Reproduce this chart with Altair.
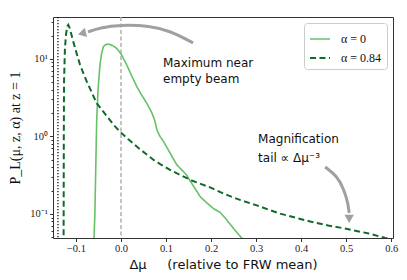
import altair as alt
import pandas as pd

# ---- data ----
s0_x = [-0.0605, -0.058, -0.056, -0.054, -0.051, -0.0467, -0.043, -0.039, -0.034, -0.028,
        -0.020, -0.0096, 0.0, 0.0127, 0.024, 0.035, 0.046, 0.057, 0.068, 0.075, 0.080,
        0.0867, 0.095, 0.105, 0.115, 0.124, 0.135, 0.146, 0.153, 0.165, 0.176, 0.19,
        0.205, 0.22, 0.232, 0.242, 0.255, 0.268, 0.275]
s0_y = [0.04, 0.1, 0.4, 1.6, 4.0, 8.4, 11.8, 14.4, 15.3, 15.5,
        15.0, 13.7, 11.6, 8.4, 6.0, 4.4, 3.4, 2.7, 2.05, 1.6, 1.2,
        1.0, 0.85, 0.67, 0.53, 0.43, 0.37, 0.316, 0.27, 0.21, 0.167, 0.14,
        0.118, 0.105, 0.088, 0.074, 0.06, 0.049, 0.044]

s1_x = [-0.1275, -0.127, -0.1265, -0.1245, -0.122, -0.119, -0.117, -0.114, -0.110, -0.106,
        -0.098, -0.091, -0.083, -0.076, -0.065, -0.054, -0.041, -0.028, -0.015, 0.0,
        0.017, 0.035, 0.053, 0.072, 0.087, 0.109, 0.131, 0.157, 0.198, 0.231, 0.264,
        0.30, 0.331, 0.353, 0.38, 0.42, 0.46, 0.50, 0.55, 0.587, 0.61]
s1_y = [0.04, 1.0, 5.0, 13.5, 21.0, 26.5, 27.5, 25.0, 20.5, 16.7,
        11.5, 8.4, 6.4, 5.1, 3.7, 2.68, 2.15, 1.72, 1.38, 1.12,
        0.91, 0.74, 0.61, 0.50, 0.44, 0.37, 0.32, 0.27, 0.22, 0.18, 0.152,
        0.13, 0.112, 0.101, 0.092, 0.080, 0.071, 0.0645, 0.056, 0.049, 0.046]

series_names = ["α = 0", "α = 0.84"]
series_colors = ["#66c266", "#0f6b2a"]

dotted_x = [-0.14]
zero_x = [0.0]

x_ticks = [-0.1, 0.0, 0.1, 0.2, 0.3, 0.4, 0.5, 0.6]
y_major = [0.1, 1.0, 10.0]
y_minor = [0.05, 0.06, 0.07, 0.08, 0.09, 0.2, 0.3, 0.4, 0.5, 0.6, 0.7, 0.8, 0.9,
           2, 3, 4, 5, 6, 7, 8, 9, 20, 30]

# annotation arrows (data coordinates)
arrow1_x = [0.16, 0.1089, 0.0644, -0.0022, -0.0467, -0.0733]
arrow1_y = [16.1, 23.0, 26.7, 27.5, 25.1, 22.3]
arrow2_x = [0.4533, 0.48, 0.4956, 0.5044, 0.5067]
arrow2_y = [0.404, 0.309, 0.204, 0.1346, 0.103]
head_x = [-0.0867, 0.5067]
head_y = [21.3, 0.0862]
head_shape = ["triangle-left", "triangle-down"]
head_angle = [346, 0]

text_x = [0.0933, 0.0933, 0.3044, 0.3044]
text_y = [7.89, 4.9, 0.826, 0.469]
text_s = ["Maximum near", "empty beam", "Magnification", "tail ∝ Δμ⁻³"]

XDOM = [-0.151, 0.604]
YDOM = [0.049, 34.7]

# ---- tables ----
curves = pd.concat([
    pd.DataFrame({"x": s0_x, "y": s0_y, "series": series_names[0], "i": range(len(s0_x))}),
    pd.DataFrame({"x": s1_x, "y": s1_y, "series": series_names[1], "i": range(len(s1_x))}),
])
arrows = pd.concat([
    pd.DataFrame({"x": arrow1_x, "y": arrow1_y, "a": "a1", "i": range(len(arrow1_x))}),
    pd.DataFrame({"x": arrow2_x, "y": arrow2_y, "a": "a2", "i": range(len(arrow2_x))}),
])
heads = pd.DataFrame({"x": head_x, "y": head_y, "shape": head_shape, "angle": head_angle})
texts = pd.DataFrame({"x": text_x, "y": text_y, "t": text_s})
yticks_all = sorted(y_major + y_minor)

xscale = alt.Scale(domain=XDOM, nice=False, zero=False)
yscale = alt.Scale(type="log", domain=YDOM, nice=False)

NB = "\u00a0"
x_axis = alt.Axis(
    values=x_ticks,
    labelExpr="datum.value < 0 ? '−' + format(abs(datum.value), '.1f') : format(datum.value, '.1f')",
    title="Δμ" + NB * 5 + "(relative to FRW mean)",
    titleFont="DejaVu Sans", titleFontSize=13, titleFontWeight="normal", titleColor="#111",
    titleX=170, titleY=30, titleBaseline="alphabetic", titleAlign="center",
    labelFont="Liberation Serif", labelFontSize=10.5, labelColor="#222",
    tickSize=3.5, tickColor="#333", labelPadding=2, grid=False,
    domain=False,
)
y_axis = alt.Axis(
    values=yticks_all,
    labelExpr="datum.value == 10 ? '10¹' : datum.value == 1 ? '10⁰' : datum.value == 0.1 ? '10⁻¹' : ''",
    tickSize={"condition": {"test": "datum.value == 10 || datum.value == 1 || datum.value == 0.1", "value": 3.5}, "value": 2},
    title="P_L(μ, z, α)  at  z = 1",
    titleFont="Liberation Serif", titleFontSize=14, titleFontWeight="normal", titleColor="#111",
    titleX=-38, titleY=110.5, titleAngle=270, titleAlign="center", titleBaseline="middle",
    labelFont="Liberation Serif", labelFontSize=10.5, labelColor="#222",
    tickColor="#333", labelPadding=2, grid=False, domain=False,
)

base_x = alt.X("x:Q", scale=xscale, axis=x_axis)
base_y = alt.Y("y:Q", scale=yscale, axis=y_axis)

rule_dotted = alt.Chart(pd.DataFrame({"x": dotted_x})).mark_rule(
    color="#000000", strokeDash=[1.2, 1.8], strokeWidth=1.2).encode(
    x=alt.X("x:Q", scale=xscale))
rule_zero = alt.Chart(pd.DataFrame({"x": zero_x})).mark_rule(
    color="#aaaaaa", strokeDash=[4, 2.5], strokeWidth=1.4).encode(
    x=alt.X("x:Q", scale=xscale))

lines = alt.Chart(curves).mark_line(clip=True).encode(
    x=base_x, y=base_y,
    order="i:Q",
    color=alt.Color("series:N", scale=alt.Scale(domain=series_names, range=series_colors),
                    legend=alt.Legend(title=None)),
    strokeDash=alt.StrokeDash("series:N", scale=alt.Scale(domain=series_names, range=[[1, 0], [6, 3.5]]),
                              legend=alt.Legend(title=None)),
    strokeWidth=alt.StrokeWidth("series:N", scale=alt.Scale(domain=series_names, range=[1.6, 2.0]),
                                legend=alt.Legend(title=None)),
)

arrow_lines = alt.Chart(arrows).mark_line(interpolate="basis", color="#a0a0a0", strokeWidth=3, strokeCap="butt").encode(
    x=alt.X("x:Q", scale=xscale), y=alt.Y("y:Q", scale=yscale),
    detail="a:N", order="i:Q",
)
arrow_heads = alt.Chart(heads).mark_point(filled=True, color="#a0a0a0", opacity=1, size=90).encode(
    x=alt.X("x:Q", scale=xscale), y=alt.Y("y:Q", scale=yscale),
    shape=alt.Shape("shape:N", scale=None),
    angle=alt.Angle("angle:Q", scale=None),
)
labels = alt.Chart(texts).mark_text(align="left", baseline="alphabetic", font="DejaVu Sans",
                                    fontSize=12, color="#111").encode(
    x=alt.X("x:Q", scale=xscale), y=alt.Y("y:Q", scale=yscale), text="t:N",
)

chart = alt.layer(rule_dotted, rule_zero, lines, arrow_lines, arrow_heads, labels).properties(
    width=340, height=221,
    autosize=alt.AutoSizeParams(type="none"),
    padding={"left": 45, "top": 9, "right": 6, "bottom": 34},
).configure_view(
    stroke="#333", strokeWidth=1,
).configure_legend(
    orient="top-right", offset=6, padding=5, cornerRadius=3,
    strokeColor="#cccccc", fillColor="white",
    symbolType="stroke", symbolSize=400, rowPadding=2,
    labelFont="Liberation Serif", labelFontSize=12, labelColor="#111", labelOffset=10,
)

chart.save("out.html", embed_options={"renderer": "svg", "actions": False})
